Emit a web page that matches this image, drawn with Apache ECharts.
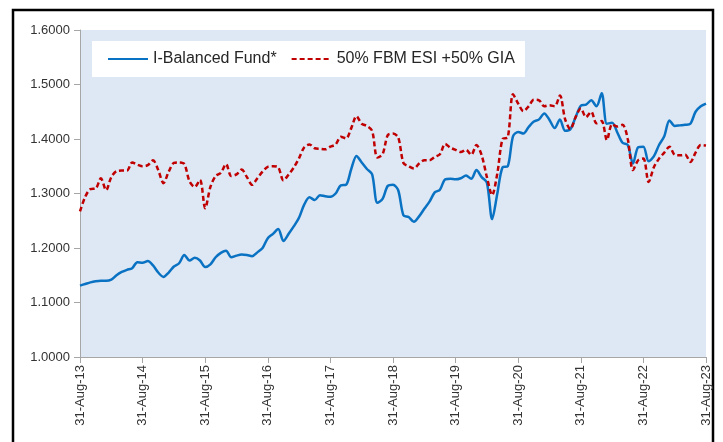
<!DOCTYPE html>
<html>
<head>
<meta charset="utf-8">
<script src="https://cdn.jsdelivr.net/npm/echarts@6/dist/echarts.min.js"></script>
<style>
  html, body { margin: 0; padding: 0; background: #fff; }
  #chart { width: 723px; height: 442px; }
</style>
</head>
<body>
<div id="chart"></div>
<script>
// monthly month-end dates, Aug 2013 .. Aug 2023
var months = ['Jan','Feb','Mar','Apr','May','Jun','Jul','Aug','Sep','Oct','Nov','Dec'];
var lastDay = [31,28,31,30,31,30,31,31,30,31,30,31];
var dates = [];
for (var k = 0; k <= 120; k++) {
	var m = (7 + k) % 12;
	var y = 13 + Math.floor((7 + k) / 12);
	var d = lastDay[m];
	if (m == 1 && y % 4 == 0) d = 29;
	dates.push(d + '-' + months[m] + '-' + y);
}

var seriesNames = ['I-Balanced Fund*', '50% FBM ESI +50% GIA'];

var fundValues = [
	1.131,1.134,1.137,1.139,1.140,1.140,1.142,1.150,1.156,1.160,1.163,1.174,
	1.173,1.176,1.168,1.155,1.147,1.155,1.166,1.172,1.187,1.177,1.182,1.177,
	1.165,1.170,1.183,1.191,1.195,1.183,1.186,1.188,1.187,1.185,1.192,1.200,
	1.218,1.226,1.235,1.213,1.226,1.240,1.256,1.280,1.293,1.288,1.297,1.295,
	1.294,1.300,1.315,1.316,1.345,1.369,1.357,1.345,1.335,1.283,1.290,1.314,
	1.316,1.306,1.260,1.257,1.248,1.258,1.272,1.285,1.302,1.307,1.326,1.327,
	1.326,1.328,1.333,1.327,1.343,1.330,1.320,1.253,1.300,1.348,1.350,1.405,
	1.413,1.410,1.422,1.432,1.436,1.447,1.435,1.420,1.436,1.415,1.418,1.440,
	1.461,1.463,1.471,1.460,1.484,1.428,1.430,1.412,1.393,1.389,1.355,1.385,
	1.386,1.359,1.368,1.389,1.405,1.434,1.424,1.425,1.426,1.428,1.450,1.460,
	1.465
];

var benchValues = [
	1.267,1.294,1.308,1.309,1.328,1.306,1.330,1.341,1.342,1.342,1.357,1.353,
	1.350,1.352,1.361,1.343,1.319,1.340,1.356,1.357,1.354,1.322,1.312,1.325,
	1.273,1.312,1.332,1.338,1.354,1.332,1.335,1.344,1.330,1.316,1.328,1.340,
	1.349,1.350,1.348,1.324,1.335,1.348,1.365,1.385,1.390,1.383,1.382,1.381,
	1.386,1.390,1.404,1.401,1.420,1.442,1.428,1.424,1.415,1.366,1.372,1.407,
	1.410,1.403,1.356,1.350,1.346,1.355,1.361,1.361,1.367,1.372,1.391,1.384,
	1.380,1.376,1.380,1.371,1.389,1.370,1.330,1.297,1.337,1.400,1.403,1.482,
	1.465,1.451,1.460,1.472,1.471,1.460,1.462,1.460,1.480,1.436,1.418,1.440,
	1.456,1.440,1.450,1.429,1.433,1.398,1.427,1.423,1.426,1.400,1.343,1.361,
	1.364,1.321,1.348,1.364,1.375,1.386,1.371,1.370,1.371,1.358,1.375,1.389,
	1.388
];

var yMin = 1.0, yMax = 1.6, yStep = 0.1;

var myChart = echarts.init(document.getElementById('chart'), null, {renderer: 'canvas'});
var font = 'Liberation Sans';

var option = {
	animation: false,
	backgroundColor: '#ffffff',
	textStyle: {fontFamily: font},
	grid: {
		left: 80, right: 17, top: 30, bottom: 85,
		show: true,
		backgroundColor: '#DEE7F4',
		borderWidth: 0
	},
	legend: {
		left: 92, top: 41,
		padding: [10, 10, 10, 15],
		backgroundColor: '#ffffff',
		itemWidth: 40, itemHeight: 14,
		itemGap: 14,
		itemStyle: {opacity: 0},	// only the line in the legend key, no marker
		textStyle: {fontFamily: font, fontSize: 16, color: '#262626'},
		data: seriesNames
	},
	xAxis: {
		type: 'category',
		boundaryGap: false,
		data: dates,
		axisLine: {lineStyle: {color: '#A6A6A6', width: 1}},
		axisTick: {show: true, interval: 11, length: 6, lineStyle: {color: '#A6A6A6'}},
		axisLabel: {interval: 11, rotate: 90, fontFamily: font, fontSize: 13, color: '#333333', margin: 8},
		splitLine: {show: false}
	},
	yAxis: {
		type: 'value',
		min: yMin, max: yMax, interval: yStep,
		axisLine: {show: true, lineStyle: {color: '#A6A6A6', width: 1}},
		axisTick: {show: true, length: 6, lineStyle: {color: '#A6A6A6'}},
		axisLabel: {
			fontFamily: font, fontSize: 13, color: '#333333', margin: 10,
			formatter: function(v) { return v.toFixed(4); }
		},
		splitLine: {show: false}
	},
	graphic: [{
		type: 'rect',
		shape: {x: 13, y: 10, width: 700, height: 450},
		style: {fill: 'none', stroke: '#000000', lineWidth: 2.5},
		silent: true
	}],
	series: [{
		name: seriesNames[0],
		type: 'line',
		data: fundValues,
		smooth: 0.3,
		symbol: 'none',
		lineStyle: {color: '#0A72C2', width: 2.5},
		itemStyle: {color: '#0A72C2'}
	}, {
		name: seriesNames[1],
		type: 'line',
		data: benchValues,
		smooth: 0.3,
		symbol: 'none',
		lineStyle: {color: '#C00000', width: 2.5, type: [5, 3]},
		itemStyle: {color: '#C00000'}
	}]
};
myChart.setOption(option);
</script>
</body>
</html>
